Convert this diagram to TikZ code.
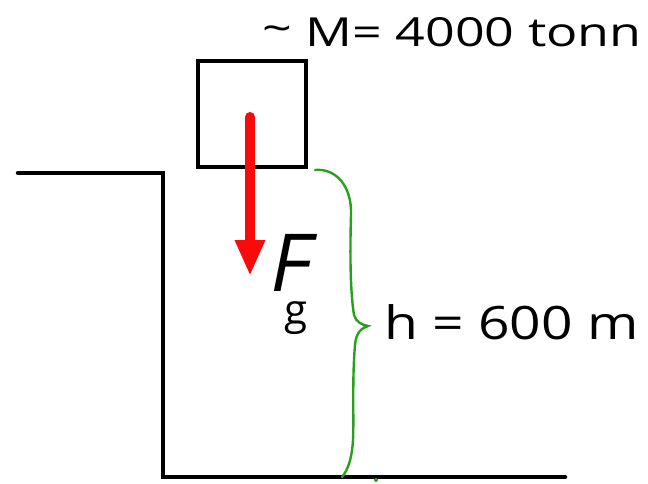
\documentclass[tikz,border=0pt]{standalone}
\usepackage{fontspec}
\setmainfont{Open Sans}
\newfontfamily\slantf[FakeSlant=0.2]{Open Sans}
\usetikzlibrary{arrows.meta}
\definecolor{handgreen}{RGB}{40,160,30}
\definecolor{handred}{RGB}{250,10,10}
\tikzset{
  ink/.style={line width=4.5pt, black, line cap=round, line join=miter},
  brace/.style={line width=2.4pt, handgreen, line cap=round},
  force/.style={line width=10pt, handred, line cap=round, -{Triangle[length=36pt,width=28pt]}},
  hand/.style={font=\fontsize{40}{44}\selectfont, inner sep=0pt, anchor=base west}
}
\begin{document}
\begin{tikzpicture}[x=1pt,y=-1pt]
\useasboundingbox (0,0) rectangle (648,484);
% ground profile
\coordinate (c1) at (18,173);
\coordinate (c2) at (163,173);
\coordinate (c3) at (163,477);
\coordinate (c4) at (565,477);
\draw[ink] (c1) -- (c2) -- (c3) -- (c4);
% block
\node[draw, ink, minimum width=108pt, minimum height=106pt, inner sep=0pt] (block) at (252,114) {};
% force arrow
\coordinate (fs) at (250,117);
\coordinate (fe) at (250,276);
\draw[force] (fs) -- (fe);
\node[hand, font=\fontsize{80}{84}\slantf] (F) at (266,291) {F};
\node[hand, font=\fontsize{42}{46}\selectfont] (g) at (284,324) {g};
% brace
\coordinate (b0) at (315,170);
\coordinate (btip) at (368,326);
\coordinate (b1) at (342,477);
\draw[brace] (b0) .. controls (335,168) and (352,185) .. (351,215)
  .. controls (350,250) and (350,290) .. (354,315)
  .. controls (356,322) and (362,325) .. (btip)
  .. controls (362,328) and (356,332) .. (355,345)
  .. controls (352,380) and (354,420) .. (353,440)
  .. controls (352,458) and (348,470) .. (b1);
\fill[handgreen] (376,480) circle (2pt);
% labels
\node[hand] (h) at (384,339) {\scalebox{1.2}[1]{\fontsize{46}{50}\selectfont h = 600 m}};
\node[hand] (M) at (262,47) {\scalebox{1.3}[1]{\fontsize{40}{44}\selectfont\raisebox{4pt}{\textasciitilde} M= 4000 tonn}};
\end{tikzpicture}
\end{document}
